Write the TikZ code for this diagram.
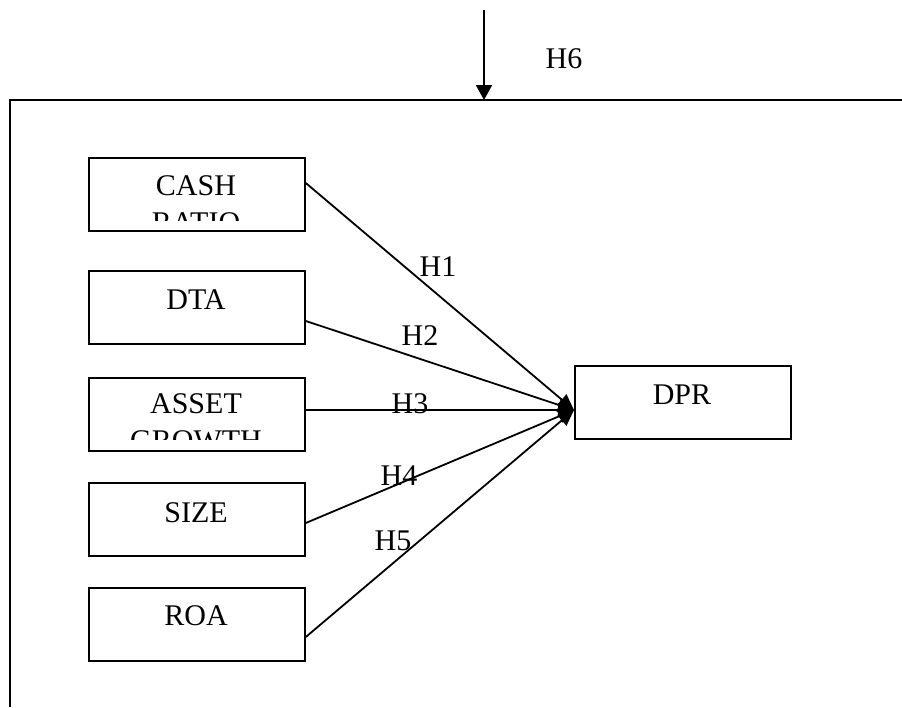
\documentclass[tikz,border=0pt]{standalone}
\usepackage{fontspec}
\setmainfont{Liberation Serif}
\usetikzlibrary{arrows.meta}
\begin{document}
\begin{tikzpicture}[x=1pt,y=-1pt,
  line width=1.8pt,
  varbox/.style={draw, rectangle, inner sep=0pt, anchor=north west, minimum width=216pt, minimum height=73pt},
  lbl/.style={font=\fontsize{30}{36}\selectfont, inner sep=0pt, anchor=base},
  conn/.style={-{Triangle[length=16pt,width=14pt]}},
]
\useasboundingbox (0,0) rectangle (902,707);
% frame
\coordinate (fl) at (10,707);
\coordinate (fc) at (10,100);
\coordinate (fr) at (903,100);
\draw (fl) -- (fc) -- (fr);
% H6 arrow
\coordinate (h6s) at (484,10);
\coordinate (h6e) at (484,100);
\draw[-{Triangle[length=15pt,width=16pt]}] (h6s) -- (h6e);
\node[lbl] (h6) at (564,68) {H6};
% boxes
\node[varbox] (cash) at (88,157) {};
\node[varbox] (dta) at (88,270) {};
\node[varbox] (asset) at (88,377) {};
\node[varbox] (size) at (88,482) {};
\node[varbox] (roa) at (88,587) {};
\node[varbox, minimum width=216pt] (dpr) at (574,365) {};
% texts
\begin{scope}
\clip (88,157) rectangle (304,220);
\node[lbl] (cashT) at (196,195) {CASH};
\node[lbl] (cashT2) at (196,232) {RATIO};
\end{scope}
\node[lbl] (dtaT) at (196,309) {DTA};
\begin{scope}
\clip (88,377) rectangle (304,439);
\node[lbl] (assetT) at (196,413) {ASSET};
\node[lbl] (assetT2) at (196,450) {GROWTH};
\end{scope}
\node[lbl] (sizeT) at (196,522) {SIZE};
\node[lbl] (roaT) at (196,625) {ROA};
\node[lbl] (dprT) at (682,404) {DPR};
% connectors
\coordinate (t) at (574,410);
\draw[conn] ([yshift=-26pt]cash.north east) -- (t);
\draw[conn] ([yshift=-51pt]dta.north east) -- (t);
\draw[conn] ([yshift=-33pt]asset.north east) -- (t);
\draw[conn] ([yshift=-41pt]size.north east) -- (t);
\draw[conn] ([yshift=-50pt]roa.north east) -- (t);
% labels
\node[lbl] (h1) at (438,276) {H1};
\node[lbl] (h2) at (420,345) {H2};
\node[lbl] (h3) at (410,413) {H3};
\node[lbl] (h4) at (399,485) {H4};
\node[lbl] (h5) at (393,550) {H5};
\end{tikzpicture}
\end{document}
